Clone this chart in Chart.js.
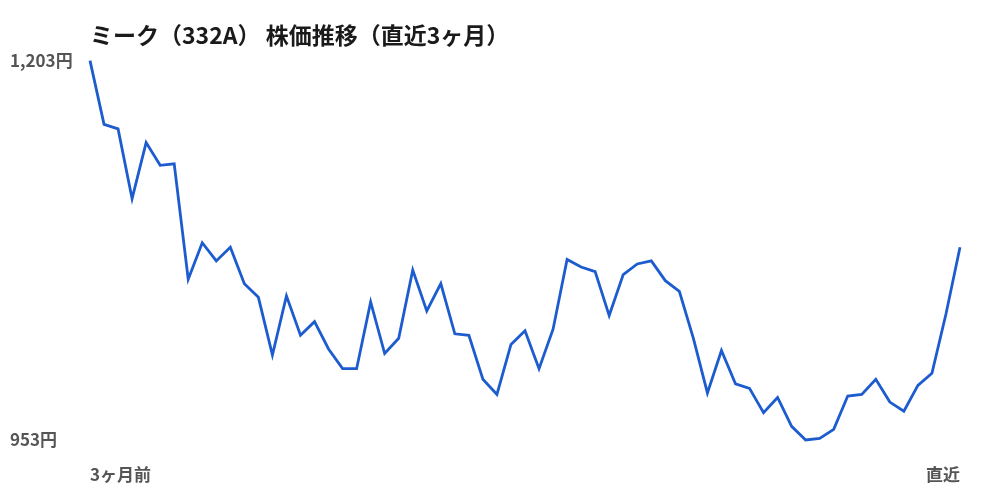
<!DOCTYPE html>
<html lang="ja">
<head>
<meta charset="utf-8">
<title>ミーク（332A） 株価推移</title>
<script src="https://cdn.jsdelivr.net/npm/chart.js@4.4.1/dist/chart.umd.min.js"></script>
<style>
    html, body { margin: 0; padding: 0; background: #fff; }
    #wrap { width: 1000px; height: 500px; position: relative; }
</style>
</head>
<body>
<div id="wrap"><canvas id="priceChart"></canvas></div>
<script>
// Stock price, last 3 months (yen)
const prices = [
    1203, 1161, 1158, 1112, 1149, 1134, 1135, 1059, 1083, 1071,
    1080, 1056, 1047, 1009, 1048, 1022, 1031, 1013, 1000, 1000,
    1044, 1010, 1020, 1065, 1038, 1056, 1023, 1022, 993, 983,
    1016, 1025, 1000, 1026, 1072, 1067, 1064, 1035, 1062, 1069,
    1071, 1058, 1051, 1020, 984, 1012, 990, 987, 971, 981,
    962, 953, 954, 960, 982, 983, 993, 978, 972, 989,
    997, 1036, 1080
];
const firstLabel = '3ヶ月前';
const lastLabel = '直近';
const priceMin = 953;
const priceMax = 1203;

const labels = prices.map((p, i) => {
    if (i === 0) return firstLabel;
    if (i === prices.length - 1) return lastLabel;
    return '';
});

const fontFamily = '"Noto Sans CJK JP", "Noto Sans", sans-serif';

const ctx = document.getElementById('priceChart').getContext('2d');
const chart = new Chart(ctx, {
    type: 'line',
    data: {
        labels: labels,
        datasets: [{
            data: prices,
            borderColor: '#1c5ccf',
            borderWidth: 2.8,
            pointRadius: 0,
            tension: 0,
            fill: false,
            clip: false
        }]
    },
    options: {
        responsive: true,
        maintainAspectRatio: false,
        animation: false,
        layout: {
            padding: { left: 10, right: 40, top: 0, bottom: 0 }
        },
        plugins: {
            legend: { display: false },
            tooltip: { enabled: false },
            title: {
                display: true,
                text: 'ミーク（332A） 株価推移（直近3ヶ月）',
                align: 'start',
                fullSize: false,
                color: '#1a1a1a',
                font: { family: fontFamily, size: 23, weight: 'bold' },
                padding: { top: 21, bottom: 12 }
            }
        },
        scales: {
            x: {
                grid: { display: false, drawTicks: false },
                border: { display: false },
                ticks: {
                    autoSkip: false,
                    maxRotation: 0,
                    align: 'inner',
                    padding: 24,
                    color: '#555',
                    font: { family: fontFamily, size: 17, weight: 'bold' },
                    callback: function (value, index) {
                        return labels[index];
                    }
                },
                afterFit: function (scale) {
                    scale.height = 60;
                }
            },
            y: {
                min: priceMin,
                max: priceMax,
                grid: { display: false, drawTicks: false },
                border: { display: false },
                afterBuildTicks: function (scale) {
                    scale.ticks = [{ value: priceMin }, { value: priceMax }];
                },
                ticks: {
                    crossAlign: 'far',
                    padding: 0,
                    color: '#555',
                    font: { family: fontFamily, size: 17, weight: 'bold' },
                    callback: function (value) {
                        return value.toLocaleString('ja-JP') + '円';
                    }
                },
                afterFit: function (scale) {
                    scale.width = 80;
                }
            }
        }
    }
});
</script>
</body>
</html>
